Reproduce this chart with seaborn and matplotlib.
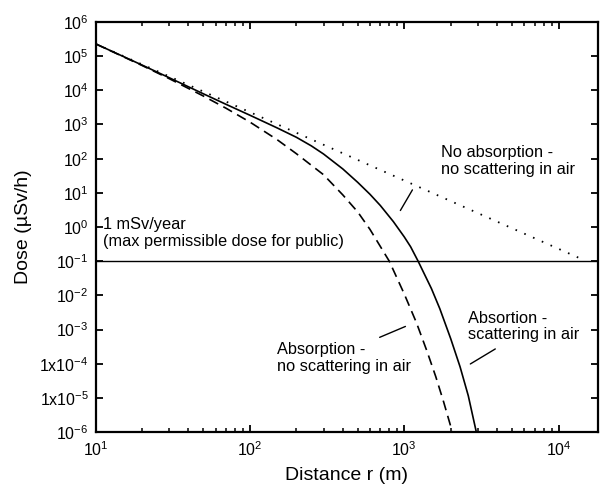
import matplotlib
matplotlib.use("Agg")
import matplotlib.pyplot as plt
import matplotlib.ticker as mticker
import seaborn as sns

# values
r_free = [10, 14000]
dose_free = [2.3e5, 0.117]

r_abs = [10, 20, 30, 50, 70, 100, 150, 200, 300, 400, 500, 600, 800,
         1000, 1200, 1400, 1600, 1800, 2050]
dose_abs = [2.3e5, 5.35e4, 2.2e4, 6.8e3, 3.0e3, 1.18e3, 361, 140, 33.9, 8.7,
            2.75, 0.85, 0.1, 1.1e-2, 1.58e-3, 2.4e-4, 4.2e-5, 7.6e-6, 1e-6]

r_scat = [10, 20, 30, 50, 70, 100, 150, 200, 250, 300, 400, 500, 600, 700,
          850, 1000, 1100, 1230, 1500, 1700, 2000, 2300, 2600, 2930]
dose_scat = [2.3e5, 5.5e4, 2.34e4, 7.9e3, 3.9e3, 1.87e3, 796, 423, 237, 137,
             50, 20.2, 9.06, 4.26, 1.44, 0.515, 0.264, 0.1, 1.58e-2, 4.07e-3,
             5.4e-4, 8.1e-5, 1.15e-5, 1e-6]

limit_dose = 0.1

x_ticks = [10, 100, 1000, 10000]
x_labels = [r"$10^{1}$", r"$10^{2}$", r"$10^{3}$", r"$10^{4}$"]
y_ticks = [1e6, 1e5, 1e4, 1e3, 1e2, 1e1, 1e0, 1e-1, 1e-2, 1e-3, 1e-4, 1e-5, 1e-6]
y_labels = [r"$10^{6}$", r"$10^{5}$", r"$10^{4}$", r"$10^{3}$", r"$10^{2}$",
            r"$10^{1}$", r"$10^{0}$", r"$10^{-1}$", r"$10^{-2}$", r"$10^{-3}$",
            r"1x$10^{-4}$", r"1x$10^{-5}$", r"$10^{-6}$"]

sns.set_style("ticks", {"axes.edgecolor": "black", "xtick.color": "black",
                        "ytick.color": "black", "text.color": "black",
                        "axes.labelcolor": "black"})
plt.rcParams["font.family"] = ["Liberation Sans", "DejaVu Sans"]
plt.rcParams["mathtext.fontset"] = "custom"
plt.rcParams["mathtext.rm"] = "Liberation Sans"
plt.rcParams["mathtext.it"] = "Liberation Sans:italic"
plt.rcParams["mathtext.bf"] = "Liberation Sans:bold"

fig = plt.figure(figsize=(6.03, 4.93), dpi=100)
ax = fig.add_axes([0.1584, 0.1237, 0.8333, 0.8317])

sns.lineplot(x=r_free, y=dose_free, ax=ax, color="black", lw=1.3,
             linestyle=(0, (0.9, 4.4)), estimator=None, sort=False)
sns.lineplot(x=r_abs, y=dose_abs, ax=ax, color="black", lw=1.2,
             linestyle=(0, (6, 3.5)), estimator=None, sort=False)
sns.lineplot(x=r_scat, y=dose_scat, ax=ax, color="black", lw=1.2,
             estimator=None, sort=False)
ax.axhline(limit_dose, color="black", lw=1.0)

ax.set_xscale("log")
ax.set_yscale("log")
ax.set_xlim(10, 1.8e4)
ax.set_ylim(1e-6, 1e6)

ax.set_xticks(x_ticks)
ax.set_xticklabels(x_labels)
ax.xaxis.set_minor_locator(mticker.LogLocator(base=10, subs=range(2, 10), numticks=20))
ax.xaxis.set_minor_formatter(mticker.NullFormatter())
ax.set_yticks(y_ticks)
ax.set_yticklabels(y_labels)
ax.yaxis.set_minor_locator(mticker.NullLocator())

ax.tick_params(which="both", direction="in", top=True, right=True, labelsize=11.5)
ax.tick_params(which="major", length=5, width=1.3)
ax.tick_params(which="minor", length=3, width=1.1)
ax.tick_params(axis="x", pad=6)
ax.tick_params(axis="y", pad=5)
for s in ax.spines.values():
    s.set_linewidth(1.6)

ax.set_xlabel("Distance r (m)", fontsize=14, labelpad=6)
ax.set_ylabel("Dose (\u00b5Sv/h)", fontsize=14, labelpad=5)

txt = dict(fontsize=11.8, color="black", ha="left", va="top", linespacing=1.15,
           transform=ax.transAxes)
ax.text(0.687, 0.70, "No absorption -\nno scattering in air", **txt)
ax.text(0.015, 0.524, "1 mSv/year\n(max permissible dose for public)", **txt)
ax.text(0.3606, 0.22, "Absorption -\nno scattering in air", **txt)
ax.text(0.742, 0.296, "Absortion -\nscattering in air", **txt)

lead = dict(arrowstyle="-", color="black", lw=1.0, shrinkA=0, shrinkB=0)
ax.annotate("", xy=(944, 3.04), xytext=(1130, 12.2), arrowprops=lead)
ax.annotate("", xy=(693, 5.9e-4), xytext=(1018, 1.23e-3), arrowprops=lead)
ax.annotate("", xy=(2680, 9.8e-5), xytext=(3890, 2.7e-4), arrowprops=lead)

fig.savefig("out.png", dpi=100)
